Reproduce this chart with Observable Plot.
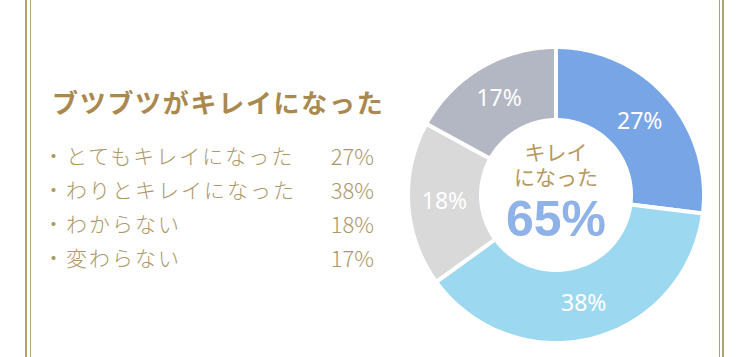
<!DOCTYPE html>
<html><head><meta charset="utf-8">
<script src="https://cdn.jsdelivr.net/npm/d3@7"></script>
<script src="https://cdn.jsdelivr.net/npm/@observablehq/plot@0.6"></script>
<style>
html,body{margin:0;padding:0;background:#fff;}
#wrap{position:relative;width:750px;height:357px;overflow:hidden;background:#fff;font-family:"Noto Sans CJK JP",sans-serif;}
.vl{position:absolute;top:0;height:357px;background:#b3a074;}
#title{position:absolute;left:52px;top:84px;font-size:26px;font-weight:700;color:#a9894f;letter-spacing:1.7px;white-space:nowrap;line-height:36px;}
.row{position:absolute;left:43px;width:331px;height:30px;line-height:30px;font-size:21px;font-weight:300;color:#ad9868;white-space:nowrap;letter-spacing:2px;}
.row .v{position:absolute;right:0;top:0;letter-spacing:0;font-size:22px;}
#chart{position:absolute;left:0;top:0;}
</style></head>
<body><div id="wrap"></div>
<script>
const categories = ["とてもキレイになった", "わりとキレイになった", "わからない", "変わらない"];
const values = [27, 38, 18, 17];
const colors = ["#78a5e6", "#9dd8f1", "#d9d9d9", "#b3b7c3"];
const titleText = "ブツブツがキレイになった";
const centerLines = ["キレイ", "になった"];

const wrap = document.getElementById("wrap");
[[25,2],[30,1],[719,1],[722,2]].forEach(([l,w])=>{const d=document.createElement("div");d.className="vl";d.style.left=l+"px";d.style.width=w+"px";wrap.appendChild(d);});

const t=document.createElement("div");t.id="title";t.textContent=titleText;wrap.appendChild(t);
categories.forEach((c,i)=>{
  const r=document.createElement("div");r.className="row";r.style.top=(140+i*34)+"px";
  r.innerHTML="・"+c+'<span class="v">'+values[i]+"%</span>";
  wrap.appendChild(r);
});

const W=750,H=357,k=146,cx=555.5,cy=194.5;
const total=d3.sum(values);
const rOut=148/k, rIn=75/k, rLab=0.765;
const poly=[];const labels=[];
let acc=0;
values.forEach((v,i)=>{
  const a0=acc/total*2*Math.PI, a1=(acc+v)/total*2*Math.PI; acc+=v;
  const n=80;
  for(let j=0;j<=n;j++){const a=a0+(a1-a0)*j/n;poly.push({key:categories[i],x:rOut*Math.sin(a),y:rOut*Math.cos(a)});}
  for(let j=n;j>=0;j--){const a=a0+(a1-a0)*j/n;poly.push({key:categories[i],x:rIn*Math.sin(a),y:rIn*Math.cos(a)});}
  const am=(a0+a1)/2;
  labels.push({text:v+"%",x:rLab*Math.sin(am),y:rLab*Math.cos(am)});
});
const centerValue=(values[0]+values[1])+"%";

const chart=Plot.plot({
  width:W,height:H,margin:0,
  x:{domain:[-cx/k,(W-cx)/k],range:[0,W],axis:null},
  y:{domain:[-(H-cy)/k,cy/k],range:[H,0],axis:null},
  color:{domain:categories,range:colors},
  style:{background:"transparent"},
  marks:[
    Plot.line(poly,{x:"x",y:"y",z:"key",fill:"key",stroke:"white",strokeWidth:4,curve:"linear-closed"}),
    Plot.text(labels,{x:"x",y:"y",text:"text",fill:"white",fontSize:23,fontWeight:400,fontFamily:"Noto Sans, sans-serif"}),
    ...centerLines.map((s,i)=>Plot.text([s],{x:()=>0,y:()=>0,text:d=>d,dy:-42+i*25,fill:"#b8985c",fontSize:21,fontFamily:"Noto Sans CJK JP"})),
    Plot.text([centerValue],{x:()=>0,y:()=>0,text:d=>d,dy:25,fill:"#8fb2e8",fontSize:50,fontWeight:"bold",fontFamily:"Liberation Sans, Arial, sans-serif"})
  ]
});
chart.id="chart";
wrap.appendChild(chart);
</script></body></html>
